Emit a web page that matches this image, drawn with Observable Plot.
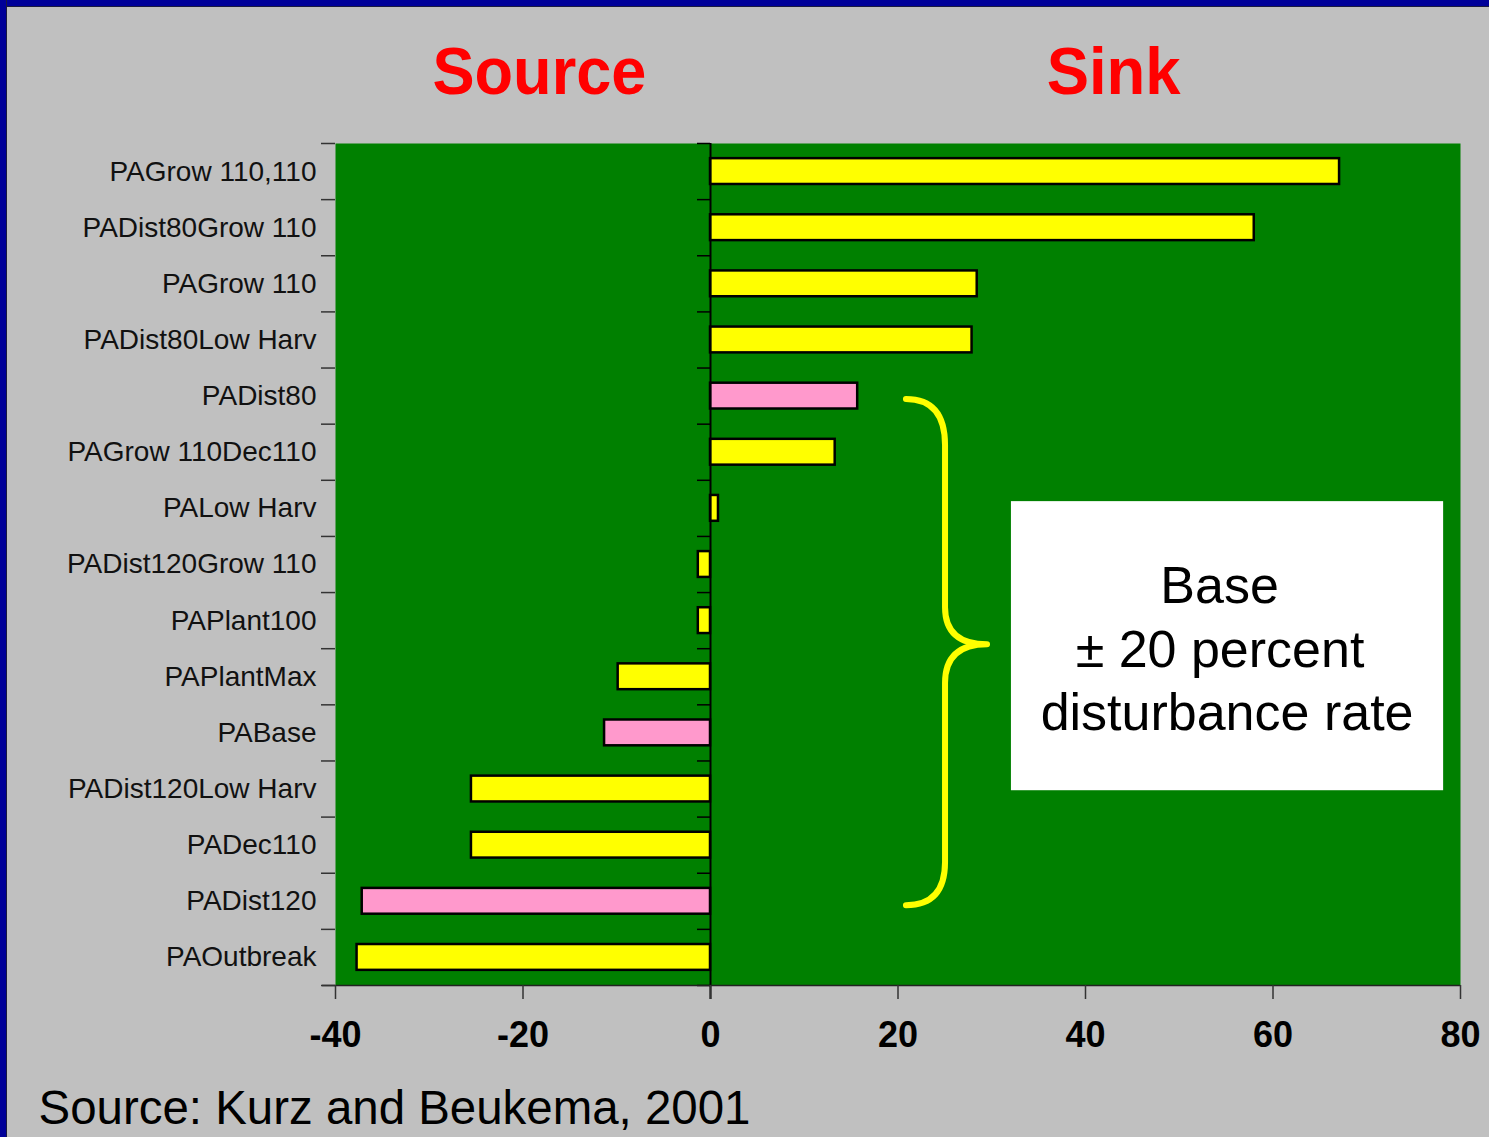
<!DOCTYPE html>
<html><head><meta charset="utf-8">
<script src="https://cdn.jsdelivr.net/npm/d3@7"></script>
<script src="https://cdn.jsdelivr.net/npm/@observablehq/plot@0.6"></script>
<style>
html,body{margin:0;padding:0;background:#c0c0c0;}
#wrap{position:relative;width:1489px;height:1137px;overflow:hidden;}
.bt{position:absolute;left:0;top:0;width:1489px;height:6px;background:#000099;border-bottom:1px solid #1a1a40;}
.bl{position:absolute;left:0;top:0;width:6px;height:1137px;background:#000099;border-right:1px solid #1a1a40;}
</style></head><body><div id="wrap"></div>
<script>
const categories = ["PAGrow 110,110","PADist80Grow 110","PAGrow 110","PADist80Low Harv","PADist80","PAGrow 110Dec110","PALow Harv","PADist120Grow 110","PAPlant100","PAPlantMax","PABase","PADist120Low Harv","PADec110","PADist120","PAOutbreak"];
const values = [67.1, 58.0, 28.45, 27.9, 15.7, 13.3, 0.85, -1.3, -1.3, -9.85, -11.3, -25.5, -25.5, -37.15, -37.7];
const groups = ["scenario","scenario","scenario","scenario","base","scenario","scenario","scenario","scenario","scenario","base","scenario","scenario","base","scenario"];
const xTicks = [-40, -20, 0, 20, 40, 60, 80];
const headings = ["Source", "Sink"];
const noteLines = ["Base", "\u00B1 20 percent", "disturbance rate"];
const caption = "Source: Kurz and Beukema, 2001";

const data = categories.map((name, i) => ({name, value: values[i], group: groups[i], row: i}));
const rows = d3.range(categories.length + 1);
const font = "'Liberation Sans', Arial, Helvetica, sans-serif";

function brace(index, scales) {
  const {x, y} = scales;
  const xe = x(20.9), xs = x(25.07), xt = x(29.55);
  const y0 = y(4.56), y1 = y(5.38), y2 = y(8.27), yt = y(8.93), y3 = y(9.62), y4 = y(12.81), y5 = y(13.58);
  const d = `M${xe},${y0} Q${xs},${y0} ${xs},${y1} L${xs},${y2} Q${xs},${yt} ${xt},${yt} Q${xs},${yt} ${xs},${y3} L${xs},${y4} Q${xs},${y5} ${xe},${y5}`;
  return d3.create("svg:path").attr("d", d).attr("fill", "none").attr("stroke", "#ffff00")
    .attr("stroke-width", 6).attr("stroke-linecap", "round").attr("stroke-linejoin", "round").node();
}

const chart = Plot.plot({
  width: 1489, height: 1137,
  marginLeft: 335, marginRight: 29, marginTop: 143, marginBottom: 152,
  style: {background: "#c0c0c0", fontFamily: font, color: "black", overflow: "visible"},
  x: {domain: [-40, 80], label: null},
  y: {domain: [0, categories.length], reverse: true, axis: null, label: null},
  color: {domain: ["scenario", "base"], range: ["#ffff00", "#ff99cc"]},
  marks: [
    Plot.frame({fill: "#008000"}),
    Plot.rect(data, {x1: 0, x2: "value", y1: d => d.row + 0.27, y2: d => d.row + 0.73, fill: "group", stroke: "black", strokeWidth: 2.5}),
    Plot.ruleX([0], {y1: 0, y2: categories.length, insetBottom: -14, stroke: "black", strokeWidth: 2}),
    Plot.ruleY(rows, {x1: 0, x2: 0, insetLeft: -13, stroke: "black", strokeWidth: 1.5}),
    Plot.ruleY([categories.length], {x1: -40, x2: 80, insetLeft: -13, stroke: "#222", strokeWidth: 1.5}),
    Plot.axisY(rows, {tickSize: 14, tickFormat: () => "", label: null, stroke: "#333", strokeWidth: 1.5}),
    Plot.axisY(data.map(d => d.row + 0.5), {tickSize: 0, tickPadding: 19, label: null, tickFormat: v => categories[Math.floor(v)], fontSize: 28, fill: "#111"}),
    Plot.axisX(xTicks, {tickSize: 14, tickPadding: 22, label: null, fontSize: 36, fontWeight: "bold", stroke: "#333", strokeWidth: 1.5, tickFormat: d => String(d)}),
    brace,
    Plot.rect([0], {x1: 32.1, x2: 78.2, y1: 6.38, y2: 11.53, fill: "white"}),
    Plot.text(noteLines, {x: [54.3, 54.35, 55.1], y: [8.18, 9.32, 10.45], text: d => d, lineAnchor: "bottom", fontSize: 52, fill: "black"}),
    Plot.text(headings, {x: [-18.25, 43.0], text: d => d, frameAnchor: "top", dy: -50, lineAnchor: "bottom", fontSize: 66, fontWeight: "bold", fill: "#ff0000"}),
    Plot.text([caption], {frameAnchor: "bottom-left", dx: -297, dy: 138, lineAnchor: "bottom", textAnchor: "start", fontSize: 48, fill: "black"})
  ]
});

const lengths = {"Source": 214, "Sink": 134};
lengths[caption] = 712;
chart.querySelectorAll("text").forEach(t => {
  const L = lengths[t.textContent];
  if (L) { t.setAttribute("textLength", L); t.setAttribute("lengthAdjust", "spacingAndGlyphs"); }
});

const wrap = document.getElementById("wrap");
wrap.appendChild(chart);
const bt = document.createElement("div"); bt.className = "bt"; wrap.appendChild(bt);
const bl = document.createElement("div"); bl.className = "bl"; wrap.appendChild(bl);
</script>
</body></html>
